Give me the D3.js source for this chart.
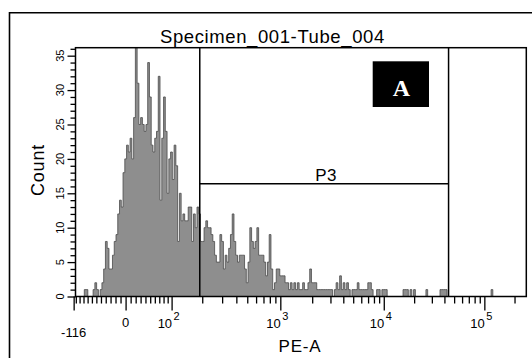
<!DOCTYPE html>
<html><head><meta charset="utf-8">
<script src="https://cdn.jsdelivr.net/npm/d3@7"></script>
<style>
body{margin:0;background:#fff}
svg{display:block}
text{font-family:"Liberation Sans",Arial,sans-serif;fill:#000}
</style>
</head><body>
<svg id="c" width="532" height="358"></svg>
<script>
// ---------------- data ----------------
const title = "Specimen_001-Tube_004";
const xTitle = "PE-A";
const yTitle = "Count";
const panelLetter = "A";
const gateName = "P3";
const gateRange = [190, 44000];   // PE-A values of the interval gate
const gateLevel = 16.4;           // count level at which the gate bar is drawn
// histogram counts, 256 equal channels across the biexponential display
const counts = [
0,0,0,0,0,1,1,0,0,0,
1,2,1,0,1,2,4,8,7,4,
4,6,8,9,12,14,13,18,20,22,
21,23,20,26,37,31,25,26,25,24,
25,34,29,22,21,23,24,32,14,23,
29,24,15,20,21,17,22,19,8,15,
11,12,11,11,13,13,8,12,10,13,
12,8,8,10,11,10,10,9,8,6,
5,5,9,8,4,6,5,7,9,12,
8,6,5,6,6,6,4,2,5,10,
8,7,8,10,6,6,6,5,3,5,
9,4,1,2,4,4,3,3,3,2,
2,1,2,1,2,1,2,1,1,2,
1,1,2,4,2,2,2,1,1,1,
1,1,1,1,1,1,0,1,2,1,
3,1,2,1,2,1,0,1,1,1,
2,1,1,1,1,1,2,2,1,0,
0,1,1,0,1,1,1,0,0,0,
0,0,0,0,0,0,1,1,1,0,
1,0,1,0,0,0,0,0,0,1,
0,0,0,0,0,0,0,1,1,1,
1,0,0,0,0,0,0,0,0,0,
0,0,0,0,0,0,0,0,0,0,
0,0,0,0,0,0,1,0,0,0,
0,0,0,0,0,0,0,0,0,0,
0,0,0,0,0,0
];
const xMajorTicks = [-116, 0, 100, 1000, 10000, 100000];
const xMajorBase  = ["-116", "0", "10", "10", "10", "10"];
const xMajorExp   = ["", "", "2", "3", "4", "5"];
const xMinorTicks = [-110,-100,-90,-80,-70,-60,-50,-40,-30,-20,-10,
  10,20,30,40,50,60,70,80,90,
  200,300,400,500,600,700,800,900,
  2000,3000,4000,5000,6000,7000,8000,9000,
  20000,30000,40000,50000,60000,70000,80000,90000,
  200000];
const yMajorTicks = [0,5,10,15,20,25,30,35];
const yMinorTicks = [1,2,3,4,6,7,8,9,11,12,13,14,16,17,18,19,21,22,23,24,26,27,28,29,31,32,33,34,36];
const yMax = 36.16;
const logicleParams = {T: 262144, W: 0.5, M: 4.5, A: 0};

// ---------------- logicle transform ----------------
function makeLogicle(p){
  const w = p.W/(p.M+p.A), x2 = p.A/(p.M+p.A), x1 = x2+w, x0 = x2+2*w;
  const b = (p.M+p.A)*Math.LN10;
  let lo = 1e-9, hi = b;
  for (let k=0;k<200;k++){ const m=(lo+hi)/2; const f=2*(Math.log(m)-Math.log(b))+w*(b+m); if (f<0) lo=m; else hi=m; }
  const d = (lo+hi)/2;
  const ca = Math.exp(x0*(b+d));
  const mfa = Math.exp(b*x1) - ca/Math.exp(d*x1);
  const a = p.T/((Math.exp(b)-mfa) - ca/Math.exp(d));
  const c = ca*a, f = -mfa*a;
  function S(y){ return y>=x1 ? a*Math.exp(b*y) - c*Math.exp(-d*y) + f : -S(2*x1-y); }
  function fwd(v){ let l=-1, h=1.5; for (let k=0;k<80;k++){ const m=(l+h)/2; if (S(m)<v) l=m; else h=m; } return (l+h)/2; }
  return fwd;
}
const logicle = makeLogicle(logicleParams);

// ---------------- layout ----------------
const svg = d3.select("#c");
const L = 75.5, R = 526.3, T = 47.7, B = 296.5;
const xDisp = d3.scaleLinear().domain([0,1]).range([L, R]);
const xScale = v => xDisp(logicle(v));
xScale.copy = () => xScale;
xScale.range = () => xDisp.range();
xScale.domain = () => [-116, logicleParams.T];
const yScale = d3.scaleLinear().domain([0, yMax]).range([B, T]);

// outer frame
svg.append("path").attr("d", `M9.5,358 V12.75 H532`).attr("fill","none").attr("stroke","#000").attr("stroke-width",1.6);

// title
svg.append("text").attr("x",160).attr("y",43.3).attr("font-size",18.5).attr("letter-spacing",0.6).text(title);

// clip
svg.append("clipPath").attr("id","clip").append("rect").attr("x",L).attr("y",T).attr("width",R-L).attr("height",B-T);

// histogram
const N = counts.length;
const pts = counts.map((c,i)=>({x:i/N, c}));
pts.push({x:1, c:counts[N-1]});
const g = svg.append("g").attr("clip-path","url(#clip)");
g.append("path").datum(pts)
  .attr("d", d3.area().x(d=>xDisp(d.x)).y0(yScale(0)).y1(d=>yScale(d.c)).curve(d3.curveStepAfter))
  .attr("fill","#8e8e8e");
g.append("path").datum(pts)
  .attr("d", d3.line().x(d=>xDisp(d.x)).y(d=>yScale(d.c)).curve(d3.curveStepAfter))
  .attr("fill","none").attr("stroke","#4a4a4a").attr("stroke-width",0.8);

// plot box
svg.append("rect").attr("x",L).attr("y",T).attr("width",R-L).attr("height",B-T)
  .attr("fill","none").attr("stroke","#000").attr("stroke-width",1.5);

// gate
const gx0 = xScale(gateRange[0]), gx1 = xScale(gateRange[1]), gy = yScale(gateLevel);
const gate = svg.append("g").attr("stroke","#000").attr("stroke-width",1.5).attr("fill","none");
gate.append("line").attr("x1",gx0).attr("x2",gx0).attr("y1",T).attr("y2",B);
gate.append("line").attr("x1",gx1).attr("x2",gx1).attr("y1",T).attr("y2",B);
gate.append("line").attr("x1",gx0).attr("x2",gx1).attr("y1",gy).attr("y2",gy);
svg.append("text").attr("x",(gx0+gx1)/2+2).attr("y",gy-3).attr("text-anchor","middle")
  .attr("font-size",17).attr("letter-spacing",0.5).text(gateName);

// panel letter
const bx = 372.7, by = 61.3;
svg.append("rect").attr("x",bx).attr("y",by).attr("width",56.3).attr("height",45.7).attr("fill","#000");
svg.append("text").attr("x",bx+28.7).attr("y",by+34.7).attr("text-anchor","middle")
  .style("font-family","'Liberation Serif','Times New Roman',serif").style("font-weight","bold")
  .attr("font-size",24).style("fill","#fff").text(panelLetter);

// x axis
const xa = svg.append("g").attr("transform",`translate(0,${B})`);
xa.call(d3.axisBottom(xScale).tickValues(xMinorTicks).tickSize(7).tickSizeOuter(0).tickFormat(""));
xa.call(g2=>g2.select(".domain").remove());
const xb = svg.append("g").attr("transform",`translate(0,${B})`);
xb.call(d3.axisBottom(xScale).tickValues(xMajorTicks).tickSize(14).tickSizeOuter(0).tickFormat(""));
xb.call(g2=>g2.select(".domain").remove());
[xa,xb].forEach(a=>a.selectAll("line").attr("stroke","#000").attr("stroke-width",1.3));

xMajorTicks.forEach((v,i)=>{
  const x = xScale(v);
  if (xMajorExp[i]) {
    svg.append("text").attr("x",x+0.5).attr("y",327.5).attr("text-anchor","end").attr("font-size",13).text(xMajorBase[i]);
    svg.append("text").attr("x",x+2).attr("y",320).attr("text-anchor","start").attr("font-size",11).text(xMajorExp[i]);
  } else if (v < 0) {
    svg.append("text").attr("x",x).attr("y",337.3).attr("text-anchor","middle").attr("font-size",13).text(xMajorBase[i]);
  } else {
    svg.append("text").attr("x",x).attr("y",327.3).attr("text-anchor","middle").attr("font-size",13).text(xMajorBase[i]);
  }
});
svg.append("text").attr("x",300).attr("y",352.3).attr("text-anchor","middle").attr("font-size",17).attr("letter-spacing",0.8).text(xTitle);

// y axis
const ya = svg.append("g").attr("transform",`translate(${L},0)`);
ya.call(d3.axisLeft(yScale).tickValues(yMinorTicks).tickSize(5).tickSizeOuter(0).tickFormat(""));
ya.call(g2=>g2.select(".domain").remove());
const yb = svg.append("g").attr("transform",`translate(${L},0)`);
yb.call(d3.axisLeft(yScale).tickValues(yMajorTicks).tickSize(8).tickSizeOuter(0).tickFormat(""));
yb.call(g2=>g2.select(".domain").remove());
[ya,yb].forEach(a=>a.selectAll("line").attr("stroke","#000").attr("stroke-width",1.3));
yMajorTicks.forEach(v=>{
  svg.append("text").attr("transform",`translate(63.5,${yScale(v)}) rotate(-90)`)
    .attr("text-anchor","middle").attr("font-size",11).text(String(v));
});
svg.append("text").attr("transform",`translate(43.5,170) rotate(-90)`).attr("text-anchor","middle")
  .attr("font-size",18).attr("letter-spacing",0.8).text(yTitle);
</script>
</body></html>
